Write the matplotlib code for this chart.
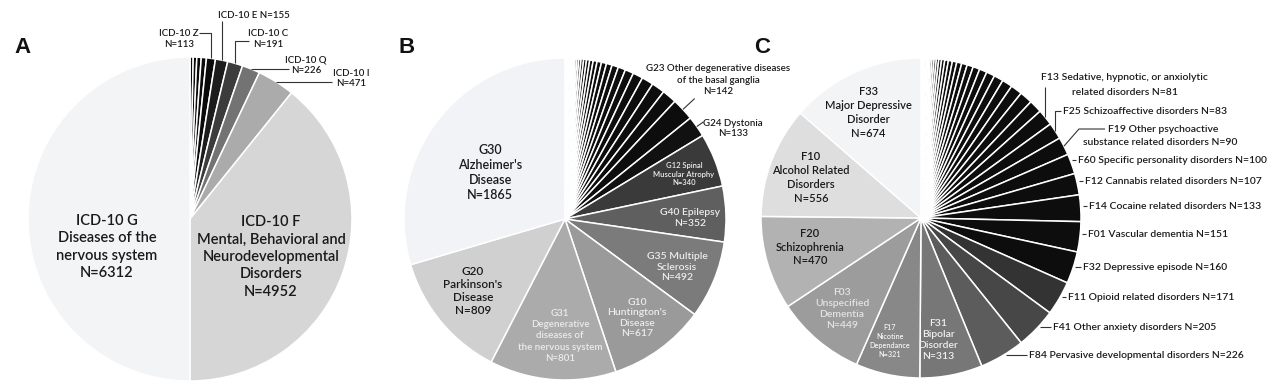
import numpy as np
import matplotlib
matplotlib.use("Agg")
import matplotlib.pyplot as plt

W, H = 1280, 389

# A: ICD-10 chapters (first four = small unlabeled chapters)
a_codes = ["", "", "", "", "ICD-10 Z", "ICD-10 E", "ICD-10 C", "ICD-10 Q", "ICD-10 I", "ICD-10 F", "ICD-10 G"]
a_values = [40, 45, 55, 65, 113, 155, 191, 226, 471, 4952, 6312]

# B: ICD-10 G codes (small codes first, then labeled ones)
b_small = [3, 3, 4, 4, 5, 5, 6, 7, 8, 9, 10, 11, 12, 14, 16, 18, 20, 22, 25, 28,
           32, 36, 41, 47, 54, 64, 74, 84, 92]
b_codes = ["G23", "G24", "G12", "G40", "G35", "G10", "G31", "G20", "G30"]
b_values = [142, 133, 340, 352, 492, 617, 801, 809, 1865]

# C: ICD-10 F codes
c_small = [1, 1, 2, 2, 3, 3, 4, 4, 5, 6, 7, 8, 9, 10, 11, 12, 14, 16, 18, 20,
           22, 25, 28, 31, 34, 38, 42, 47, 52, 58, 64, 65]
c_codes = ["F13", "F25", "F19", "F60", "F12", "F14", "F01", "F32", "F11", "F41",
           "F84", "F31", "F17", "F03", "F20", "F10", "F33"]
c_values = [81, 83, 90, 100, 107, 133, 151, 160, 171, 205, 226, 313, 321, 449, 470, 556, 674]

# colours
a_colors = ["#0a0a0a"] * 4 + ["#0a0a0a", "#1c1c1c", "#3c3c3c", "#737373", "#ababab", "#d6d6d6", "#f3f4f6"]
b_colors = ["#0d0d0d"] * len(b_small) + ["#0d0d0d", "#111111", "#3a3a3a", "#5f5f5f", "#7b7b7b",
                                          "#9a9a9a", "#ababab", "#d0d0d0", "#f2f3f6"]
c_colors = ["#0d0d0d"] * len(c_small) + ["#0d0d0d"] * 8 + ["#333333", "#474747", "#5c5c5c", "#777777",
                                                           "#888888", "#9c9c9c", "#b2b2b2", "#dedede", "#f3f4f6"]

plt.rcParams["font.family"] = ["Lato", "DejaVu Sans"]
plt.rcParams["font.weight"] = "semibold"
TXT = "#1a1a1a"

fig = plt.figure(figsize=(W / 100, H / 100), dpi=100)
ax = fig.add_axes([0, 0, 1, 1])


def draw_pie(values, colors, cx, cy, r):
    # y axis is flipped later, so startangle 270 + counterclock = clockwise from 12 o'clock
    wedges, _ = ax.pie(values, colors=colors, startangle=270, counterclock=True,
                       center=(cx, cy), radius=r,
                       wedgeprops=dict(edgecolor="white", linewidth=1.1))
    return wedges


def edge_pt(w, dr=0.0):
    t = np.deg2rad((w.theta1 + w.theta2) / 2)
    return w.center[0] + (w.r + dr) * np.cos(t), w.center[1] + (w.r + dr) * np.sin(t)


def line(xs, ys):
    ax.plot(xs, ys, color="#333333", lw=0.8, solid_capstyle="butt")


# ---------- A ----------
wa = draw_pie(a_values, a_colors, 190, 219, 162)
ax.text(107, 247, "ICD-10 G\nDiseases of the\nnervous system\nN=6312", ha="center", va="center",
        fontsize=10.5, color=TXT, linespacing=1.3)
ax.text(271, 257, "ICD-10 F\nMental, Behavioral and\nNeurodevelopmental\nDisorders\nN=4952",
        ha="center", va="center", fontsize=10.5, color=TXT, linespacing=1.3)

sm = dict(fontsize=7, color=TXT, linespacing=1.2)
x, y = edge_pt(wa[4])
ax.text(179, 39, "ICD-10 Z\nN=%d" % a_values[4], ha="center", va="center", **sm)
line([199, x, x], [33, 33, y])
x, y = edge_pt(wa[5])
ax.text(218, 15, "ICD-10 E N=%d" % a_values[5], ha="left", va="center", **sm)
line([x, x], [y, 21])
x, y = edge_pt(wa[6])
ax.text(268, 39, "ICD-10 C\nN=%d" % a_values[6], ha="center", va="center", **sm)
line([x, x, 249], [y, 41, 41])
x, y = edge_pt(wa[7])
ax.text(306, 65.5, "ICD-10 Q\nN=%d" % a_values[7], ha="center", va="center", **sm)
line([x, 289], [y, y])
x, y = edge_pt(wa[8])
ax.text(351, 78.5, "ICD-10 I\nN=%d" % a_values[8], ha="center", va="center", **sm)
line([x, 332], [y, y])

# ---------- B ----------
wb = draw_pie(b_small + b_values, b_colors, 565, 219, 161)
nb = len(b_small)
light = "#ececec"
ax.text(490, 172, "G30\nAlzheimer's\nDisease\nN=1865", ha="center", va="center", fontsize=9,
        color=TXT, linespacing=1.3)
ax.text(473, 291, "G20\nParkinson's\nDisease\nN=809", ha="center", va="center", fontsize=8.5,
        color=TXT, linespacing=1.25)
ax.text(560, 336, "G31\nDegenerative\ndiseases of\nthe nervous system\nN=801", ha="center",
        va="center", fontsize=7, color=light, linespacing=1.3)
ax.text(637, 318, "G10\nHuntington's\nDisease\nN=617", ha="center", va="center", fontsize=7.5,
        color=light, linespacing=1.2)
ax.text(677, 267, "G35 Multiple\nSclerosis\nN=492", ha="center", va="center", fontsize=7.5,
        color=light, linespacing=1.2)
ax.text(690, 218, "G40 Epilepsy\nN=352", ha="center", va="center", fontsize=7.5,
        color=light, linespacing=1.25)
ax.text(684, 174, "G12 Spinal\nMuscular Atrophy\nN=340", ha="center", va="center", fontsize=5.5,
        color=light, linespacing=1.2)

x0, y0 = edge_pt(wb[nb])
x1, y1 = edge_pt(wb[nb], dr=16)
line([x0, x1], [y0, y1])
ax.text(718, 80, "G23 Other degenerative diseases\nof the basal ganglia\nN=142", ha="center",
        va="center", fontsize=7, color=TXT, linespacing=1.35)
x0, y0 = edge_pt(wb[nb + 1])
x1, y1 = edge_pt(wb[nb + 1], dr=8)
line([x0, x1], [y0, y1])
ax.text(733, 128.5, "G24 Dystonia\nN=133", ha="center", va="center", fontsize=7, color=TXT,
        linespacing=1.2)

# ---------- C ----------
cx, cy, cr = 921, 218, 160
wc = draw_pie(c_small + c_values, c_colors, cx, cy, cr)
nc = len(c_small)
ax.text(868, 112.5, "F33\nMajor Depressive\nDisorder\nN=674", ha="center", va="center",
        fontsize=8, color=TXT, linespacing=1.3)
ax.text(811, 177.5, "F10\nAlcohol Related\nDisorders\nN=556", ha="center", va="center",
        fontsize=8, color=TXT, linespacing=1.3)
ax.text(810, 247, "F20\nSchizophrenia\nN=470", ha="center", va="center", fontsize=8,
        color=TXT, linespacing=1.3)
ax.text(842, 309, "F03\nUnspecified\nDementia\nN=449", ha="center", va="center", fontsize=7.5,
        color="#e4e4e4", linespacing=1.25)
ax.text(890, 341, "F17\nNicotine\nDependance\nN=321", ha="center", va="center", fontsize=5.2,
        color="#f2f2f2", linespacing=1.35)
ax.text(938, 340, "F31\nBipolar\nDisorder\nN=313", ha="center", va="center", fontsize=7.5,
        color="#f0f0f0", linespacing=1.25)

lab = dict(fontsize=7.5, color=TXT, va="center")
# F13 (two staggered lines)
x, y = edge_pt(wc[nc])
ax.text(1041, 77, "F13 Sedative, hypnotic, or anxiolytic", ha="left", **lab)
ax.text(1072, 92, "related disorders N=%d" % c_values[0], ha="left", **lab)
line([x, x], [y, 87])
# F25
x, y = edge_pt(wc[nc + 1])
ax.text(1063, 111, "F25 Schizoaffective disorders N=%d" % c_values[1], ha="left", **lab)
line([x, x, 1061], [y, 111, 111])
# F19
x, y = edge_pt(wc[nc + 2])
ax.text(1108, 129, "F19 Other psychoactive", ha="left", **lab)
ax.text(1083, 142, "substance related disorders N=%d" % c_values[2], ha="left", **lab)
line([x, x + 15, 1105], [y, 129, 129])

# single-line labels with short horizontal leaders
right = [("F60 Specific personality disorders", 3, 1078, 160),
         ("F12 Cannabis related disorders", 4, 1085, 181),
         ("F14 Cocaine related disorders", 5, 1089, 206),
         ("F01 Vascular dementia", 6, 1088, 234),
         ("F32 Depressive episode", 7, 1083, 267),
         ("F11 Opioid related disorders", 8, 1068, 297),
         ("F41 Other anxiety disorders", 9, 1053, 327),
         ("F84 Pervasive developmental disorders", 10, 1029, 355)]
for name, i, tx, ty in right:
    ax.text(tx, ty, "%s N=%d" % (name, c_values[i]), ha="left", **lab)
    ex = cx + np.sqrt(cr ** 2 - (ty - cy) ** 2) + 2
    line([ex, tx - 2], [ty, ty])

# panel letters
for letter, px in [("A", 14), ("B", 398), ("C", 754)]:
    ax.text(px, 53, letter, fontsize=16, fontweight="bold", family="Liberation Sans",
            color="#111111", va="baseline", ha="left")

ax.set_xlim(0, W)
ax.set_ylim(H, 0)
ax.set_aspect("auto")
ax.axis("off")

fig.savefig("out.png", dpi=100, facecolor="white")
